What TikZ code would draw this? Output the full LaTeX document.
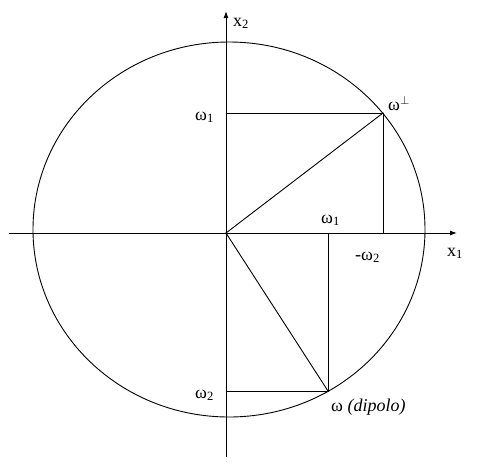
\documentclass[tikz,border=0pt]{standalone}
\usepackage{fontspec}
\setmainfont{Liberation Serif}
\usetikzlibrary{arrows.meta}
\tikzset{
  ln/.style={line width=0.9pt, line cap=rect},
  ax/.style={line width=1pt, -{Latex[length=7pt,width=5pt]}},
  lbl/.style={font=\fontsize{18}{20}\selectfont, inner sep=0pt}
}
\begin{document}
\begin{tikzpicture}[x=1pt,y=-1pt]
\useasboundingbox (0,0) rectangle (491,467);
\fill[white] (0,0) rectangle (491,467);
\coordinate (O) at (226,233);
\coordinate (xl) at (9,233);
\coordinate (xr) at (457,233);
\coordinate (yb) at (226,457);
\coordinate (yt) at (226,11);
\coordinate (P) at (383,113);
\coordinate (W) at (328,391);
\coordinate (Py) at (226,113);
\coordinate (Px) at (383,233);
\coordinate (Wy) at (226,391);
\coordinate (Wx) at (328,233);
\draw[ln] (229,229.5) ellipse [x radius=196, y radius=187.5];
\draw[ax] (xl) -- (xr);
\draw[ax] (yb) -- (yt);
\draw[ln] (Py) -- (P) -- (Px);
\draw[ln] (O) -- (P);
\draw[ln] (Wx) -- (W) -- (Wy);
\draw[ln] (O) -- (W);
\node[lbl, anchor=base west] (lx2) at (233,26) {x\textsubscript{2}};
\node[lbl, anchor=base west] (lx1) at (447,256) {x\textsubscript{1}};
\node[lbl, anchor=base west] (lw1a) at (195,120) {ω\textsubscript{1}};
\node[lbl, anchor=base west] (lwp) at (388,110) {ω\raisebox{6pt}{\fontsize{13}{13}\selectfont$\perp$}};
\node[lbl, anchor=base west] (lw1b) at (321,223) {ω\textsubscript{1}};
\node[lbl, anchor=base west] (lw2a) at (355,260) {-ω\textsubscript{2}};
\node[lbl, anchor=base west] (lw2b) at (195,398) {ω\textsubscript{2}};
\node[lbl, anchor=base west] (lw) at (331,411) {ω \textit{(dipolo)}};
\end{tikzpicture}
\end{document}
